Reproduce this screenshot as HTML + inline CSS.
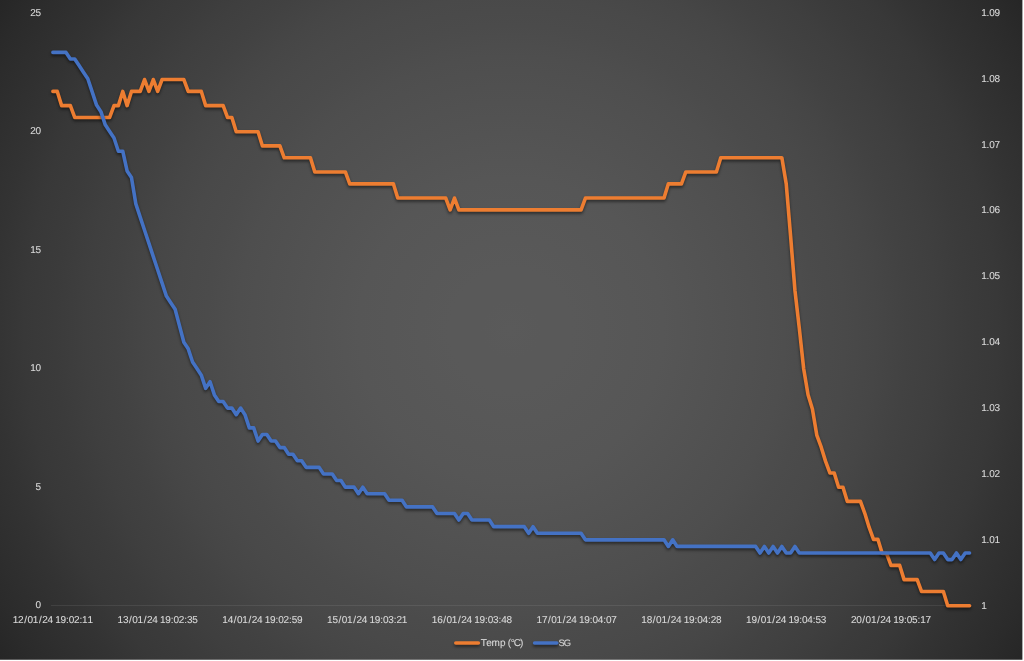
<!DOCTYPE html>
<html lang="en">
<head>
<meta charset="utf-8">
<title>Temp (°C) and SG</title>
<style>
html,body{margin:0;padding:0;background:#ffffff;}
body{width:1024px;height:661px;overflow:hidden;position:relative;}
svg{position:absolute;left:0;top:0;display:block;}
text{font-family:"Liberation Sans",sans-serif;font-size:10px;fill:#d9d9d9;stroke:#d9d9d9;stroke-width:0.1px;paint-order:stroke;text-rendering:geometricPrecision;}
</style>
</head>
<body>
<svg width="1024" height="661" viewBox="0 0 1024 661">
<defs>
<radialGradient id="bg" gradientUnits="userSpaceOnUse" cx="511" cy="329.75" r="608.2"><stop offset="0.00" stop-color="#5a5a5a"/><stop offset="0.05" stop-color="#595959"/><stop offset="0.10" stop-color="#595959"/><stop offset="0.15" stop-color="#585858"/><stop offset="0.20" stop-color="#575757"/><stop offset="0.25" stop-color="#565656"/><stop offset="0.30" stop-color="#545454"/><stop offset="0.35" stop-color="#525252"/><stop offset="0.40" stop-color="#505050"/><stop offset="0.45" stop-color="#4e4e4e"/><stop offset="0.50" stop-color="#4b4b4b"/><stop offset="0.55" stop-color="#494949"/><stop offset="0.60" stop-color="#464646"/><stop offset="0.65" stop-color="#424242"/><stop offset="0.70" stop-color="#3f3f3f"/><stop offset="0.75" stop-color="#3b3b3b"/><stop offset="0.80" stop-color="#383838"/><stop offset="0.85" stop-color="#333333"/><stop offset="0.90" stop-color="#2f2f2f"/><stop offset="0.95" stop-color="#2b2b2b"/><stop offset="1.00" stop-color="#262626"/></radialGradient>
<filter id="sh" filterUnits="userSpaceOnUse" x="0" y="0" width="1024" height="661" color-interpolation-filters="sRGB">
<feGaussianBlur in="SourceAlpha" stdDeviation="1.5"/>
<feOffset dx="0" dy="1.9" result="b"/>
<feComponentTransfer><feFuncA type="linear" slope="0.5"/></feComponentTransfer>
<feMerge><feMergeNode/><feMergeNode in="SourceGraphic"/></feMerge>
</filter>
</defs>
<rect x="0" y="0" width="1022.4" height="659.75" fill="url(#bg)"/>
<line x1="51" y1="605.5" x2="971.5" y2="605.5" stroke="#ffffff" stroke-opacity="0.08" stroke-width="1"/>
<g fill="none" stroke-width="3.6" stroke-linejoin="round" stroke-linecap="round">
<polyline filter="url(#sh)" stroke="#ed7d31" points="52.90,91.41 57.27,91.41 61.63,105.63 66.00,105.63 70.36,105.63 74.72,117.48 79.09,117.48 83.45,117.48 87.82,117.48 92.19,117.48 96.55,117.48 100.91,117.48 105.28,117.48 109.65,117.48 114.01,105.63 118.38,105.63 122.74,91.41 127.10,105.63 131.47,91.41 135.84,91.41 140.20,91.41 144.56,79.56 148.93,91.41 153.30,79.56 157.66,91.41 162.03,79.56 166.39,79.56 170.75,79.56 175.12,79.56 179.49,79.56 183.85,79.56 188.22,91.41 192.58,91.41 196.95,91.41 201.31,91.41 205.68,105.63 210.04,105.63 214.41,105.63 218.77,105.63 223.14,105.63 227.50,117.48 231.87,117.48 236.23,131.70 240.60,131.70 244.96,131.70 249.33,131.70 253.69,131.70 258.06,131.70 262.42,145.92 266.79,145.92 271.15,145.92 275.51,145.92 279.88,145.92 284.25,157.77 288.61,157.77 292.98,157.77 297.34,157.77 301.70,157.77 306.07,157.77 310.44,157.77 314.80,171.99 319.16,171.99 323.53,171.99 327.89,171.99 332.26,171.99 336.62,171.99 340.99,171.99 345.36,171.99 349.72,183.84 354.08,183.84 358.45,183.84 362.81,183.84 367.18,183.84 371.55,183.84 375.91,183.84 380.27,183.84 384.64,183.84 389.00,183.84 393.37,183.84 397.74,198.06 402.10,198.06 406.46,198.06 410.83,198.06 415.19,198.06 419.56,198.06 423.93,198.06 428.29,198.06 432.65,198.06 437.02,198.06 441.38,198.06 445.75,198.06 450.12,209.91 454.48,198.06 458.84,209.91 463.21,209.91 467.57,209.91 471.94,209.91 476.31,209.91 480.67,209.91 485.04,209.91 489.40,209.91 493.76,209.91 498.13,209.91 502.50,209.91 506.86,209.91 511.23,209.91 515.59,209.91 519.96,209.91 524.32,209.91 528.69,209.91 533.05,209.91 537.42,209.91 541.78,209.91 546.14,209.91 550.51,209.91 554.88,209.91 559.24,209.91 563.61,209.91 567.97,209.91 572.34,209.91 576.70,209.91 581.07,209.91 585.43,198.06 589.79,198.06 594.16,198.06 598.52,198.06 602.89,198.06 607.25,198.06 611.62,198.06 615.99,198.06 620.35,198.06 624.72,198.06 629.08,198.06 633.45,198.06 637.81,198.06 642.17,198.06 646.54,198.06 650.90,198.06 655.27,198.06 659.63,198.06 664.00,198.06 668.37,183.84 672.73,183.84 677.10,183.84 681.46,183.84 685.83,171.99 690.19,171.99 694.56,171.99 698.92,171.99 703.28,171.99 707.65,171.99 712.01,171.99 716.38,171.99 720.75,157.77 725.11,157.77 729.48,157.77 733.84,157.77 738.21,157.77 742.57,157.77 746.94,157.77 751.30,157.77 755.66,157.77 760.03,157.77 764.39,157.77 768.76,157.77 773.12,157.77 777.49,157.77 781.86,157.77 786.22,183.84 790.59,235.98 794.95,290.49 799.32,328.41 803.68,368.70 808.04,394.77 812.41,408.99 816.77,435.06 821.14,446.91 825.50,461.13 829.87,472.98 834.24,472.98 838.60,487.20 842.97,487.20 847.33,501.42 851.70,501.42 856.06,501.42 860.43,501.42 864.79,513.27 869.15,527.49 873.52,539.34 877.88,539.34 882.25,553.56 886.62,553.56 890.98,565.41 895.35,565.41 899.71,565.41 904.08,579.63 908.44,579.63 912.81,579.63 917.17,579.63 921.53,591.48 925.90,591.48 930.26,591.48 934.63,591.48 939.00,591.48 943.36,591.48 947.73,605.70 952.09,605.70 956.46,605.70 960.82,605.70 965.19,605.70 969.55,605.70"/>
<polyline filter="url(#sh)" stroke="#4472c4" points="52.90,52.39 57.27,52.39 61.63,52.39 66.00,52.39 70.36,58.98 74.72,58.98 79.09,65.57 83.45,72.15 87.82,78.74 92.19,91.91 96.55,105.09 100.91,111.68 105.28,124.85 109.65,131.44 114.01,138.02 118.38,151.20 122.74,151.20 127.10,170.96 131.47,177.55 135.84,203.89 140.20,217.07 144.56,230.24 148.93,243.42 153.30,256.59 157.66,269.76 162.03,282.94 166.39,296.11 170.75,302.70 175.12,309.29 179.49,325.75 183.85,342.22 188.22,348.81 192.58,361.98 196.95,368.57 201.31,375.16 205.68,388.33 210.04,381.74 214.41,394.92 218.77,401.50 223.14,401.50 227.50,408.09 231.87,408.09 236.23,414.68 240.60,408.09 244.96,414.68 249.33,427.85 253.69,427.85 258.06,441.03 262.42,434.44 266.79,434.44 271.15,441.03 275.51,441.03 279.88,447.61 284.25,447.61 288.61,454.20 292.98,454.20 297.34,460.79 301.70,460.79 306.07,467.37 310.44,467.37 314.80,467.37 319.16,467.37 323.53,473.96 327.89,473.96 332.26,473.96 336.62,480.55 340.99,480.55 345.36,487.13 349.72,487.13 354.08,487.13 358.45,493.72 362.81,487.13 367.18,493.72 371.55,493.72 375.91,493.72 380.27,493.72 384.64,493.72 389.00,500.31 393.37,500.31 397.74,500.31 402.10,500.31 406.46,506.90 410.83,506.90 415.19,506.90 419.56,506.90 423.93,506.90 428.29,506.90 432.65,506.90 437.02,513.48 441.38,513.48 445.75,513.48 450.12,513.48 454.48,513.48 458.84,520.07 463.21,513.48 467.57,513.48 471.94,520.07 476.31,520.07 480.67,520.07 485.04,520.07 489.40,520.07 493.76,526.66 498.13,526.66 502.50,526.66 506.86,526.66 511.23,526.66 515.59,526.66 519.96,526.66 524.32,526.66 528.69,533.24 533.05,526.66 537.42,533.24 541.78,533.24 546.14,533.24 550.51,533.24 554.88,533.24 559.24,533.24 563.61,533.24 567.97,533.24 572.34,533.24 576.70,533.24 581.07,533.24 585.43,539.83 589.79,539.83 594.16,539.83 598.52,539.83 602.89,539.83 607.25,539.83 611.62,539.83 615.99,539.83 620.35,539.83 624.72,539.83 629.08,539.83 633.45,539.83 637.81,539.83 642.17,539.83 646.54,539.83 650.90,539.83 655.27,539.83 659.63,539.83 664.00,539.83 668.37,546.42 672.73,539.83 677.10,546.42 681.46,546.42 685.83,546.42 690.19,546.42 694.56,546.42 698.92,546.42 703.28,546.42 707.65,546.42 712.01,546.42 716.38,546.42 720.75,546.42 725.11,546.42 729.48,546.42 733.84,546.42 738.21,546.42 742.57,546.42 746.94,546.42 751.30,546.42 755.66,546.42 760.03,553.00 764.39,546.42 768.76,553.00 773.12,546.42 777.49,553.00 781.86,546.42 786.22,553.00 790.59,553.00 794.95,546.42 799.32,553.00 803.68,553.00 808.04,553.00 812.41,553.00 816.77,553.00 821.14,553.00 825.50,553.00 829.87,553.00 834.24,553.00 838.60,553.00 842.97,553.00 847.33,553.00 851.70,553.00 856.06,553.00 860.43,553.00 864.79,553.00 869.15,553.00 873.52,553.00 877.88,553.00 882.25,553.00 886.62,553.00 890.98,553.00 895.35,553.00 899.71,553.00 904.08,553.00 908.44,553.00 912.81,553.00 917.17,553.00 921.53,553.00 925.90,553.00 930.26,553.00 934.63,559.59 939.00,553.00 943.36,553.00 947.73,559.59 952.09,559.59 956.46,553.00 960.82,559.59 965.19,553.00 969.55,553.00"/>
</g>
<g opacity="0.999">
<text x="38.34" y="608.40" text-anchor="middle">0</text>
<text x="38.34" y="489.90" text-anchor="middle">5</text>
<text x="33.02 38.34" y="371.40" text-anchor="middle">10</text>
<text x="33.02 38.34" y="252.90" text-anchor="middle">15</text>
<text x="33.02 38.34" y="134.40" text-anchor="middle">20</text>
<text x="33.02 38.34" y="15.90" text-anchor="middle">25</text>
<text x="983.96" y="608.65" text-anchor="middle">1</text>
<text x="983.96 987.95 991.93 997.25" y="542.78" text-anchor="middle">1.01</text>
<text x="983.96 987.95 991.93 997.25" y="476.91" text-anchor="middle">1.02</text>
<text x="983.96 987.95 991.93 997.25" y="411.04" text-anchor="middle">1.03</text>
<text x="983.96 987.95 991.93 997.25" y="345.17" text-anchor="middle">1.04</text>
<text x="983.96 987.95 991.93 997.25" y="279.30" text-anchor="middle">1.05</text>
<text x="983.96 987.95 991.93 997.25" y="213.43" text-anchor="middle">1.06</text>
<text x="983.96 987.95 991.93 997.25" y="147.56" text-anchor="middle">1.07</text>
<text x="983.96 987.95 991.93 997.25" y="81.69" text-anchor="middle">1.08</text>
<text x="983.96 987.95 991.93 997.25" y="15.82" text-anchor="middle">1.09</text>
<text x="15.58 20.90 25.59 30.28 35.60 40.29 44.98 50.30 54.15 57.99 63.31 67.38 71.45 76.77 80.83 84.90 90.22" y="622.95" text-anchor="middle">12/01/24 19:02:11</text>
<text x="120.34 125.66 130.35 135.04 140.36 145.05 149.74 155.06 158.91 162.75 168.07 172.14 176.21 181.53 185.59 189.66 194.98" y="622.95" text-anchor="middle">13/01/24 19:02:35</text>
<text x="225.10 230.42 235.11 239.80 245.12 249.81 254.50 259.82 263.67 267.51 272.83 276.90 280.97 286.29 290.35 294.42 299.74" y="622.95" text-anchor="middle">14/01/24 19:02:59</text>
<text x="329.86 335.18 339.87 344.56 349.88 354.57 359.26 364.58 368.43 372.27 377.59 381.66 385.73 391.05 395.11 399.18 404.50" y="622.95" text-anchor="middle">15/01/24 19:03:21</text>
<text x="434.62 439.94 444.63 449.32 454.64 459.33 464.02 469.34 473.19 477.03 482.35 486.42 490.49 495.81 499.87 503.94 509.26" y="622.95" text-anchor="middle">16/01/24 19:03:48</text>
<text x="539.38 544.70 549.39 554.08 559.40 564.09 568.78 574.10 577.95 581.79 587.11 591.18 595.25 600.57 604.63 608.70 614.02" y="622.95" text-anchor="middle">17/01/24 19:04:07</text>
<text x="644.14 649.46 654.15 658.84 664.16 668.85 673.54 678.86 682.71 686.55 691.87 695.94 700.01 705.33 709.39 713.46 718.78" y="622.95" text-anchor="middle">18/01/24 19:04:28</text>
<text x="748.90 754.22 758.91 763.60 768.92 773.61 778.30 783.62 787.47 791.31 796.63 800.70 804.77 810.09 814.15 818.22 823.54" y="622.95" text-anchor="middle">19/01/24 19:04:53</text>
<text x="853.66 858.98 863.67 868.36 873.68 878.37 883.06 888.38 892.23 896.07 901.39 905.46 909.53 914.85 918.91 922.98 928.30" y="622.95" text-anchor="middle">20/01/24 19:05:17</text>
<text x="483.76 488.93 495.74 502.69 506.63 509.41 512.79 517.37 521.76" y="645.70" text-anchor="middle">Temp (°C)</text>
<text x="561.61 567.34" y="645.70" text-anchor="middle" style="font-size:9.4px">SG</text>
</g>
<g fill="none" stroke-width="3.6" stroke-linecap="round">
<line filter="url(#sh)" x1="455.8" y1="643" x2="478.4" y2="643" stroke="#ed7d31"/>
<line filter="url(#sh)" x1="534.6" y1="643" x2="556.8" y2="643" stroke="#4472c4"/>
</g>
</svg>
</body>
</html>
